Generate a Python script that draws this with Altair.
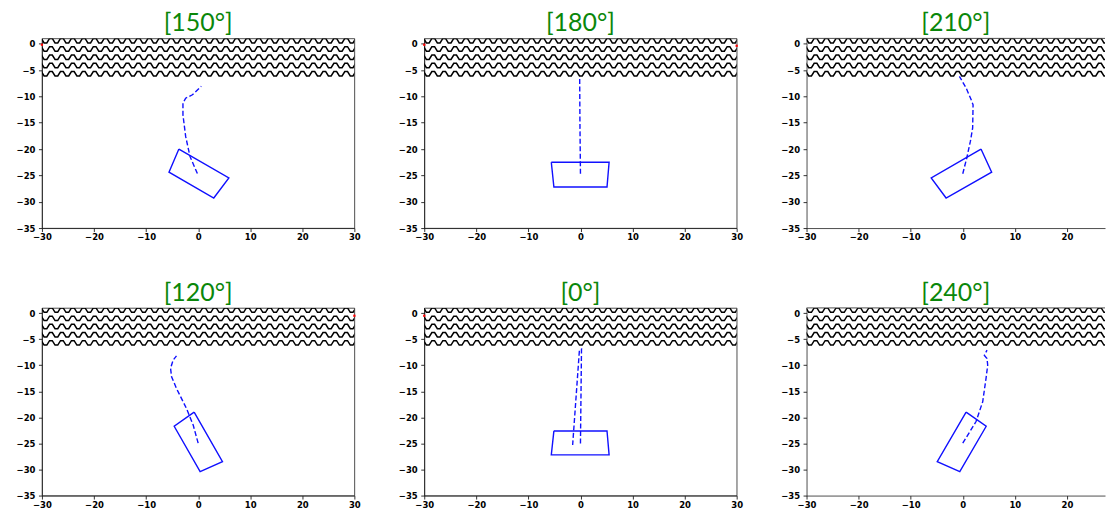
import altair as alt
import pandas as pd

# ---------------- data ----------------
TITLES = ["[150°]", "[180°]", "[210°]", "[120°]", "[0°]", "[240°]"]
X_TICKS = [-30, -20, -10, 0, 10, 20, 30]
Y_TICKS = [0, -5, -10, -15, -20, -25, -30, -35]

# outline of the box in each panel (corners in drawing order)
BOX_X = [
    [-3.7, 5.9, 3.0, -5.6],
    [-5.6, 5.5, 5.1, -5.1],
    [3.5, 5.55, -3.2, -6.06],
    [-0.77, 4.67, 0.38, -4.6],
    [-5.1, 5.1, 5.5, -5.6],
    [0.64, 4.5, -0.57, -4.9],
]
BOX_Y = [
    [-20.0, -25.5, -29.3, -24.4],
    [-22.5, -22.5, -27.2, -27.2],
    [-20.0, -24.4, -29.3, -25.5],
    [-19.0, -28.5, -30.4, -21.7],
    [-22.6, -22.6, -27.2, -27.2],
    [-19.0, -21.7, -30.4, -28.5],
]

# dashed trajectory in each panel
PATH_X = [
    [-0.15, -1.57, -2.4, -2.92, -2.92, -2.4, -1.1, 0.6],
    [0.0, -0.1, -0.15],
    [0.0, 0.77, 1.47, 1.9, 1.98, 1.6, 0.64, -0.64],
    [0.0, -0.96, -2.24, -4.16, -5.1, -5.3, -4.8, -4.16],
    [0.0, 0.2, -0.2, -1.5],
    [0.0, 2.55, 3.83, 4.47, 4.79, 4.66, 4.15, 4.66],
]
PATH_Y = [
    [-24.65, -21.4, -17.6, -13.5, -11.3, -10.35, -9.7, -8.1],
    [-24.7, -15.0, -6.3],
    [-24.7, -21.7, -18.5, -16.0, -11.6, -10.6, -8.4, -6.2],
    [-24.95, -21.45, -18.3, -14.45, -12.2, -10.6, -9.0, -8.2],
    [-25.0, -6.9, -7.1, -25.3],
    [-24.95, -20.8, -17.0, -12.5, -10.0, -8.7, -8.1, -7.1],
]

# small red markers at the plot edges
RED_X = [[-30], [-30, 30], [], [30], [-30], []]
RED_Y = [[-0.2], [-0.2, -0.4], [], [-0.5], [-0.5], []]

# ---------------- style ----------------
X_MIN, X_MAX = -30, 30
Y_MIN, Y_MAX = -35, 1
PANEL_W = 313
LAST_W = 299
ROW_H = [190, 188]

HATCH_ROWS = 5
HATCH_PTS = 120
HATCH_X0 = -31.16
HATCH_PERIOD = 2.1
HATCH_Y0 = 0.57
HATCH_GAP = 1.57
HATCH_AMP = 0.42

BLUE = "#1010ff"
GREEN = "#0a870a"


def make_panel(i, width, height, xmax):
    xs = alt.Scale(domain=[X_MIN, xmax], nice=False, zero=False)
    ys = alt.Scale(domain=[Y_MIN, Y_MAX], nice=False, zero=False)
    xaxis = alt.Axis(values=[v for v in X_TICKS if v <= xmax], title=None,
                     labelPadding=1, labelFlush=False, labelOverlap=False)
    yaxis = alt.Axis(values=Y_TICKS, title=None, labelPadding=3.5,
                     labelOverlap=False)

    def xy(xf, yf):
        return dict(x=alt.X(xf, scale=xs, axis=xaxis),
                    y=alt.Y(yf, scale=ys, axis=yaxis))

    hatch = (
        alt.Chart(alt.sequence(0, HATCH_ROWS * HATCH_PTS, as_="i"))
        .transform_calculate(
            row=f"floor(datum.i / {HATCH_PTS})",
            k=f"datum.i % {HATCH_PTS}",
        )
        .transform_calculate(
            hx=f"{HATCH_X0} + datum.k * {HATCH_PERIOD / 4}",
            hy=f"{HATCH_Y0} - datum.row * {HATCH_GAP} + "
               f"((datum.k % 4 == 1 || datum.k % 4 == 2) ? {HATCH_AMP} : {-HATCH_AMP})",
        )
        .mark_line(clip=True, color="black", strokeWidth=1.5, strokeJoin="miter")
        .encode(detail="row:N", order="k:Q", **xy("hx:Q", "hy:Q"))
    )

    bx = BOX_X[i] + [BOX_X[i][0]]
    by = BOX_Y[i] + [BOX_Y[i][0]]
    box_df = pd.DataFrame({"x": bx, "y": by, "o": list(range(len(bx)))})
    box = (
        alt.Chart(box_df)
        .mark_line(color=BLUE, strokeWidth=1.4, clip=True)
        .encode(order="o:Q", **xy("x:Q", "y:Q"))
    )

    path_df = pd.DataFrame({"x": PATH_X[i], "y": PATH_Y[i],
                            "o": list(range(len(PATH_X[i])))})
    path = (
        alt.Chart(path_df)
        .mark_line(color=BLUE, strokeWidth=1.4, strokeDash=[5, 2.5], clip=True)
        .encode(order="o:Q", **xy("x:Q", "y:Q"))
    )

    layers = [hatch, box, path]

    if RED_X[i]:
        red_df = pd.DataFrame({"x": RED_X[i], "y": RED_Y[i]})
        red = (
            alt.Chart(red_df)
            .mark_square(color="red", size=5, opacity=1)
            .encode(**xy("x:Q", "y:Q"))
        )
        layers.append(red)

    view = alt.ViewBackground(stroke="#222222", strokeWidth=0.8)
    if xmax < X_MAX:
        top = (
            alt.Chart(box_df.head(1))
            .mark_rule(color="#222222", strokeWidth=0.8)
            .encode(x=alt.value(0), x2=alt.value(width), y=alt.value(0))
        )
        layers.append(top)
        view = alt.ViewBackground(stroke="transparent")

    return alt.layer(*layers).properties(
        width=width,
        height=height,
        view=view,
        title=alt.TitleParams(
            text=TITLES[i], font="Lato", fontSize=25, fontWeight="normal",
            color=GREEN, anchor="middle", baseline="bottom", offset=-23,
        ),
    )


panels = []
for i in range(6):
    r = i // 3
    last = (i % 3 == 2)
    w = LAST_W if last else PANEL_W
    xmax = X_MIN + LAST_W * (X_MAX - X_MIN) / PANEL_W if last else X_MAX
    panels.append(make_panel(i, w, ROW_H[r], xmax))

chart = (
    alt.concat(*panels, columns=3, spacing={"row": 80, "column": 70}, bounds="flush")
    .properties(padding={"left": 7, "top": 2, "right": 0, "bottom": 0})
    .configure(background="white")
    .configure_axis(
        labelFont="DejaVu Sans", labelFontSize=8.5, labelFontWeight="bold",
        labelColor="black", labelOverlap=False,
        tickSize=3.5, tickWidth=0.8, tickColor="black",
        domainColor="#222222", domainWidth=0.8, grid=False,
    )
)

chart.save("out.html", embed_options={"renderer": "svg", "actions": False})
